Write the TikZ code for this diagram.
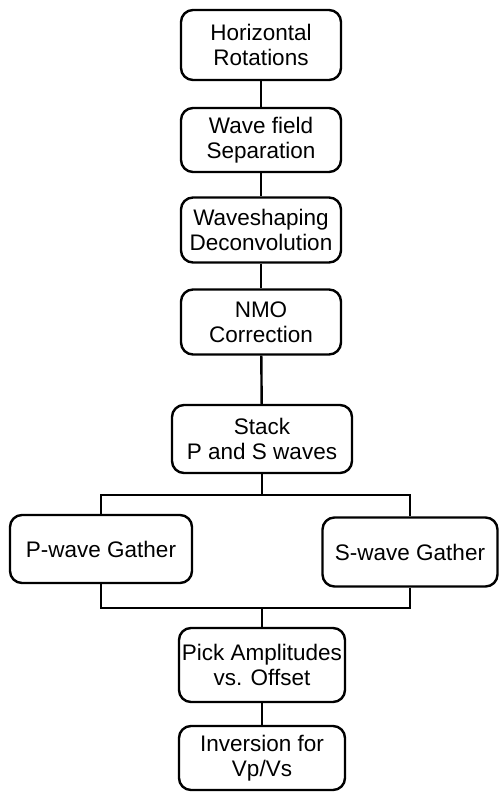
\documentclass[tikz,border=0pt]{standalone}
\usepackage{fontspec}
\setmainfont{Liberation Sans}
\usetikzlibrary{positioning}

\tikzset{
    stepbox/.style={draw, line width=2.4pt, rounded corners=12pt, align=center,
        minimum width=160pt, minimum height=66pt, inner sep=1pt,
        font=\fontsize{22.5}{25}\selectfont},
    link/.style={line width=2.4pt}
}

\begin{document}
\begin{tikzpicture}[x=1pt, y=-1pt]
            \useasboundingbox (0, 0) rectangle (500, 795);
            %\draw[lightgray] (0, 0) grid[step=50] (500, 795);
            \node[stepbox, minimum height=70pt](rot) at (261, 45) {Horizontal\\Rotations};
            \node[stepbox, minimum height=64pt](sep) at (261, 140) {Wave field\\Separation};
            \node[stepbox, minimum height=65pt](decon) at (261, 230) {Waveshaping\\Deconvolution};
            \node[stepbox, minimum height=65pt](nmo) at (261, 322) {NMO\\Correction};
            \node[stepbox, minimum width=180pt, minimum height=68pt](stack) at (262, 439) {Stack\\P and S waves};
            \node[stepbox, minimum width=182pt, minimum height=68pt](pgather) at (101, 549) {P-wave Gather};
            \node[stepbox, minimum width=175pt, minimum height=69pt](sgather) at (410, 552) {S-wave Gather};
            \node[stepbox, minimum width=166pt, minimum height=74pt](pick) at (262, 665) {Pick Amplitudes\\vs. Offset};
            \node[stepbox, minimum width=166pt, minimum height=64pt](inv) at (262, 758) {Inversion for\\Vp/Vs};

            \coordinate (split) at (262, 495);
            \coordinate (join) at (262, 608);

            \draw[link] (rot) -- (sep);
            \draw[link] (sep) -- (decon);
            \draw[link] (decon) -- (nmo);
            \draw[link] (nmo) -- (stack);
            \draw[link] (stack) -- (split);
            \draw[link] (pgather.north) |- (split) -| (sgather.north);
            \draw[link] (pgather.south) |- (join) -| (sgather.south);
            \draw[link] (join) -- (pick);
            \draw[link] (pick) -- (inv);
        \end{tikzpicture}
\end{document}
